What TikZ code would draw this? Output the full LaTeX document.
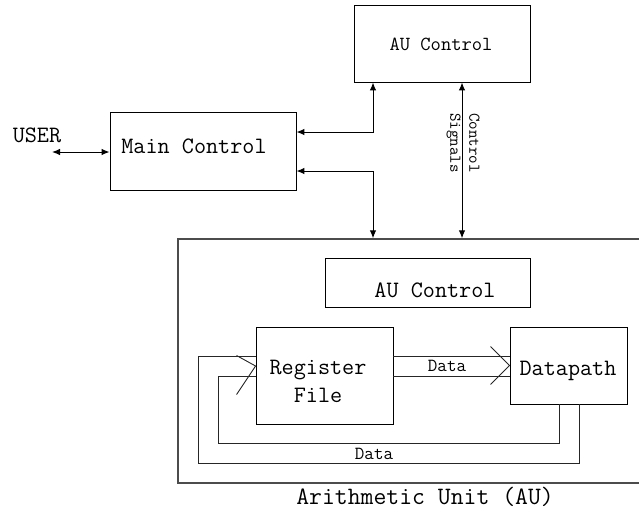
\documentclass[tikz,border=0pt]{standalone}
\usepackage{fontspec}
\usetikzlibrary{arrows.meta}
\tikzstyle{ctrlArrow}=[{Latex[length=8pt,width=6.5pt]}-{Latex[length=8pt,width=6.5pt]}, line width=1pt]
\tikzstyle{block}=[draw, line width=0.9pt, inner sep=0pt]
\tikzstyle{busLine}=[line width=0.9pt, black!85]
\tikzstyle{bigText}=[font=\ttfamily\fontsize{23.5}{28}\selectfont]
\tikzstyle{midText}=[font=\ttfamily\fontsize{20}{24}\selectfont]
\tikzstyle{smallText}=[font=\ttfamily\fontsize{18.5}{19}\selectfont]

\begin{document}
\begin{tikzpicture}[x=1pt, y=-1pt]
  \useasboundingbox (0,0) rectangle (639,528);
  \clip (0,0) rectangle (639,528);

  % Nodes
  \node [block, minimum width=176pt, minimum height=77pt] (auctrl) at (442,43.5) {};
  \node (auctrltext) at (441,44) [midText] {AU Control};

  \node [block, minimum width=186pt, minimum height=78pt] (mainctrl) at (203,151) {};
  \node (mainctrltext) at (194,146) [bigText] {Main Control};

  \node (user) at (37,135) [bigText] {USER};
  \coordinate (userend) at (52,152);

  \node [block, draw=black!70, line width=1.4pt, minimum width=522pt, minimum height=244pt] (au) at (439,361) {};
  \node (autext) at (425,497) [bigText, font=\ttfamily\fontsize{25}{28}\selectfont] {Arithmetic Unit (AU)};

  \node [block, minimum width=205pt, minimum height=49pt] (inctrl) at (427.5,282.5) {};
  \node (inctrltext) at (435,290) [bigText] {AU Control};

  \node [block, minimum width=137pt, minimum height=97pt] (regfile) at (324.5,375.5) {};
  \node (regfiletext) at (318,381) [bigText, align=center] {Register\\File};

  \node [block, minimum width=117pt, minimum height=77pt] (datapath) at (568.5,365.5) {};
  \node (datapathtext) at (568,371) [bigText] {Datapath};

  % Control connections
  \coordinate (bendup) at (373,132);
  \coordinate (benddown) at (373,171);
  \coordinate (sigline) at (462,150);
  \draw[ctrlArrow] (userend) -- (userend -| mainctrl.west);
  \draw[ctrlArrow] (mainctrl.east |- bendup) -- (bendup) -- (bendup |- auctrl.south);
  \draw[ctrlArrow] (mainctrl.east |- benddown) -- (benddown) -- (benddown |- au.north);
  \draw[ctrlArrow] (sigline |- auctrl.south) -- (sigline |- au.north);
  \node (sigtext) at (463,143) [smallText, font=\ttfamily\fontsize{16.5}{19}\selectfont, rotate=-90, align=center] {Control\\Signals};

  % Data bus to datapath
  \draw[busLine] (regfile.east |- 0,356) -- (datapath.west |- 0,356);
  \draw[busLine] (regfile.east |- 0,376) -- (datapath.west |- 0,376);
  \draw[busLine] ([shift={(-19,-19)}]datapath.west) -- (datapath.west) -- ([shift={(-19,19)}]datapath.west);
  \node (datatop) at (447,366) [smallText] {Data};

  % Data feedback to register file
  \draw[busLine] (datapath.south -| 579,0) -- (579,463) -- (198,463) -- (198,356) -- (regfile.west |- 0,356);
  \draw[busLine] (datapath.south -| 559,0) -- (559,443) -- (218,443) -- (218,376) -- (regfile.west |- 0,376);
  \draw[busLine] ([shift={(-19,-20)}]regfile.west) -- (regfile.west |- 0,366) -- ([shift={(-19,19)}]regfile.west);
  \node (databottom) at (374,454) [smallText] {Data};

\end{tikzpicture}
\end{document}
